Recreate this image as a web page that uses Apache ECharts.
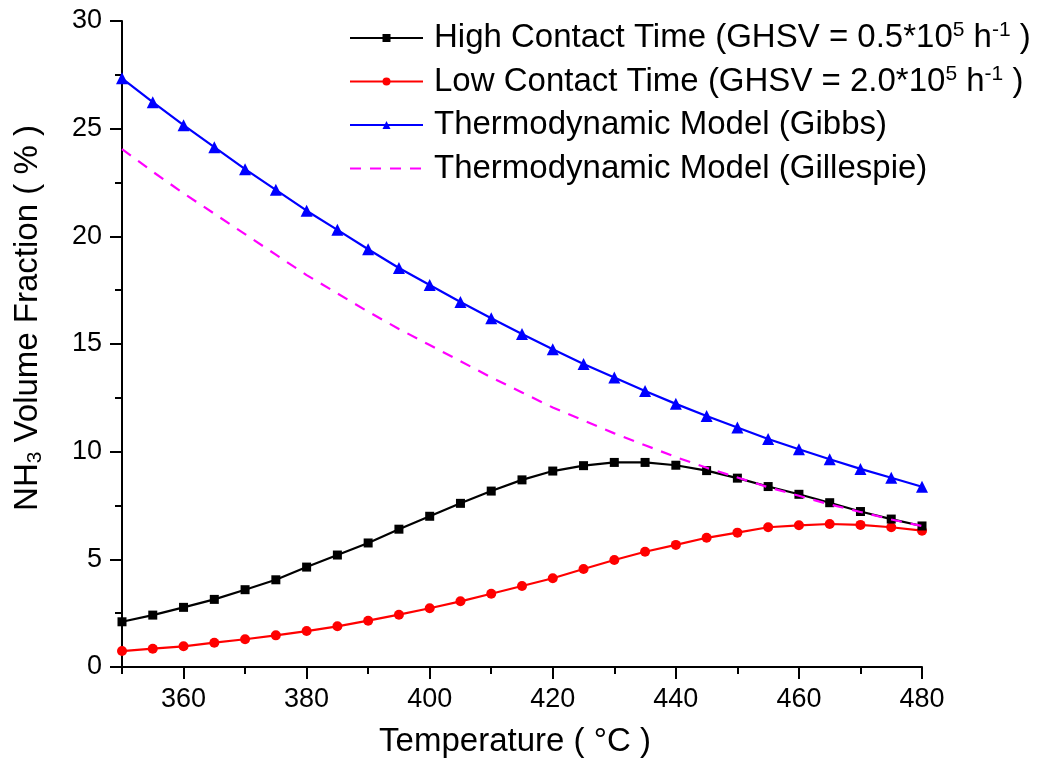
<!DOCTYPE html>
<html>
<head>
<meta charset="utf-8">
<title>NH3 Volume Fraction vs Temperature</title>
<script src="https://cdn.jsdelivr.net/npm/echarts@6/dist/echarts.min.js"></script>
<style>
  html, body { margin: 0; padding: 0; background: #ffffff; }
  #chart { width: 1046px; height: 764px; }
</style>
</head>
<body>
<div id="chart"></div>
<script>
// Reactor temperature (°C), sampled every 5 degrees
const temperatures = [350, 355, 360, 365, 370, 375, 380, 385, 390, 395, 400, 405, 410, 415,
                      420, 425, 430, 435, 440, 445, 450, 455, 460, 465, 470, 475, 480];

// NH3 volume fraction (%) for each temperature
const highContact = [2.1, 2.41, 2.77, 3.14, 3.59, 4.05, 4.64, 5.2, 5.76, 6.4, 7.0, 7.6, 8.17, 8.69,
                     9.1, 9.35, 9.5, 9.5, 9.37, 9.12, 8.77, 8.38, 8.02, 7.63, 7.22, 6.87, 6.55];
const lowContact = [0.74, 0.85, 0.96, 1.13, 1.29, 1.47, 1.67, 1.89, 2.15, 2.43, 2.73, 3.05, 3.4, 3.76,
                    4.12, 4.55, 4.97, 5.35, 5.67, 6.0, 6.24, 6.49, 6.58, 6.64, 6.6, 6.49, 6.33];
const gibbs = [27.34, 26.23, 25.16, 24.14, 23.12, 22.16, 21.19, 20.3, 19.4, 18.53, 17.74, 16.95, 16.2, 15.46,
               14.76, 14.07, 13.44, 12.82, 12.22, 11.66, 11.12, 10.59, 10.11, 9.65, 9.2, 8.79, 8.37];
const gillespie = [24.05, 23.0, 22.0, 21.05, 20.1, 19.15, 18.2, 17.35, 16.5, 15.7, 14.95, 14.2, 13.45, 12.75,
                   12.05, 11.45, 10.85, 10.3, 9.75, 9.25, 8.8, 8.35, 7.95, 7.55, 7.2, 6.85, 6.55];

// Axis ticks
const xMajorTicks = [360, 380, 400, 420, 440, 460, 480];
const xMinorTicks = [350, 370, 390, 410, 430, 450, 470];
const yTicks = [0, 5, 10, 15, 20, 25, 30];

// Series names and their legend text (rich-text markup for superscripts)
const seriesNames = [
  'High Contact Time (GHSV = 0.5*10^5 h^-1 )',
  'Low Contact Time (GHSV = 2.0*10^5 h^-1 )',
  'Thermodynamic Model (Gibbs)',
  'Thermodynamic Model (Gillespie)'
];
const legendLabels = [
  'High Contact Time (GHSV = 0.5*10{sup|5} h{sup|-1} )',
  'Low Contact Time (GHSV = 2.0*10{sup|5} h{sup|-1} )',
  'Thermodynamic Model (Gibbs)',
  'Thermodynamic Model (Gillespie)'
];

const FONT = 'Liberation Sans, Arial, sans-serif';

function pairs(values) {
  return temperatures.map((t, i) => [t, values[i]]);
}

const chart = echarts.init(document.getElementById('chart'), null, { renderer: 'canvas' });

const axisLineStyle = { color: '#000', width: 2 };

chart.setOption({
  animation: false,
  backgroundColor: '#ffffff',
  grid: { left: 122, right: 124, top: 21, bottom: 97, containLabel: false },
  legend: {
    orient: 'vertical',
    left: 344,
    top: 15,
    itemWidth: 73,
    itemHeight: 10,
    itemGap: 7.5,
    data: seriesNames.map((name, i) => (i === 3 ? { name, itemStyle: { opacity: 0 } } : { name })),
    formatter: name => legendLabels[seriesNames.indexOf(name)],
    textStyle: {
      fontFamily: FONT,
      fontSize: 33,
      color: '#000',
      lineHeight: 36,
      padding: [0, 0, 0, 6],
      rich: {
        sup: { fontFamily: FONT, fontSize: 21, color: '#000', lineHeight: 22, verticalAlign: 'top' }
      }
    }
  },
  xAxis: [
    {
      type: 'value',
      min: 350,
      max: 480,
      position: 'bottom',
      name: 'Temperature ( °C )',
      nameLocation: 'middle',
      nameGap: 58,
      nameTextStyle: { fontFamily: FONT, fontSize: 33, color: '#000', padding: [0, 14, 0, 0] },
      axisLine: { show: true, onZero: false, lineStyle: axisLineStyle },
      axisTick: { show: true, inside: false, length: 12, customValues: xMajorTicks, lineStyle: axisLineStyle },
      axisLabel: { show: true, customValues: xMajorTicks, margin: 19, fontFamily: FONT, fontSize: 27, color: '#000' },
      splitLine: { show: false }
    },
    {
      // minor ticks halfway between the labelled ones
      type: 'value',
      min: 350,
      max: 480,
      position: 'bottom',
      axisLine: { show: false, onZero: false },
      axisTick: { show: true, inside: false, length: 7, customValues: xMinorTicks, lineStyle: axisLineStyle },
      axisLabel: { show: false },
      splitLine: { show: false }
    }
  ],
  yAxis: {
    type: 'value',
    min: 0,
    max: 30,
    interval: 5,
    name: 'NH{sub|3} Volume Fraction ( % )',
    nameLocation: 'middle',
    nameRotate: 90,
    nameGap: 76,
    nameTextStyle: {
      fontFamily: FONT,
      fontSize: 33,
      color: '#000',
      lineHeight: 36,
      padding: [0, 0, 0, 52],
      rich: {
        sub: { fontFamily: FONT, fontSize: 21, color: '#000', lineHeight: 20, verticalAlign: 'bottom' }
      }
    },
    axisLine: { show: true, onZero: false, lineStyle: axisLineStyle },
    axisTick: { show: true, inside: false, length: 12, lineStyle: axisLineStyle },
    minorTick: { show: true, splitNumber: 2, length: 7, lineStyle: axisLineStyle },
    axisLabel: { show: true, margin: 20, fontFamily: FONT, fontSize: 27, color: '#000',
                 customValues: yTicks },
    splitLine: { show: false },
    minorSplitLine: { show: false }
  },
  series: [
    {
      name: seriesNames[0],
      type: 'line',
      data: pairs(highContact),
      symbol: 'rect',
      symbolSize: 9,
      lineStyle: { color: '#000000', width: 2.2 },
      itemStyle: { color: '#000000' },
      z: 4
    },
    {
      name: seriesNames[1],
      type: 'line',
      data: pairs(lowContact),
      symbol: 'circle',
      symbolSize: 10,
      lineStyle: { color: '#ff0000', width: 2.2 },
      itemStyle: { color: '#ff0000' },
      z: 3
    },
    {
      name: seriesNames[2],
      type: 'line',
      data: pairs(gibbs),
      symbol: 'triangle',
      symbolSize: 12,
      lineStyle: { color: '#0000ff', width: 2.2 },
      itemStyle: { color: '#0000ff' },
      z: 3
    },
    {
      name: seriesNames[3],
      type: 'line',
      data: pairs(gillespie),
      symbol: 'none',
      lineStyle: { color: '#ff00ff', width: 2.2, type: [11, 9] },
      itemStyle: { color: '#ff00ff' },
      z: 5
    }
  ]
});
</script>
</body>
</html>
